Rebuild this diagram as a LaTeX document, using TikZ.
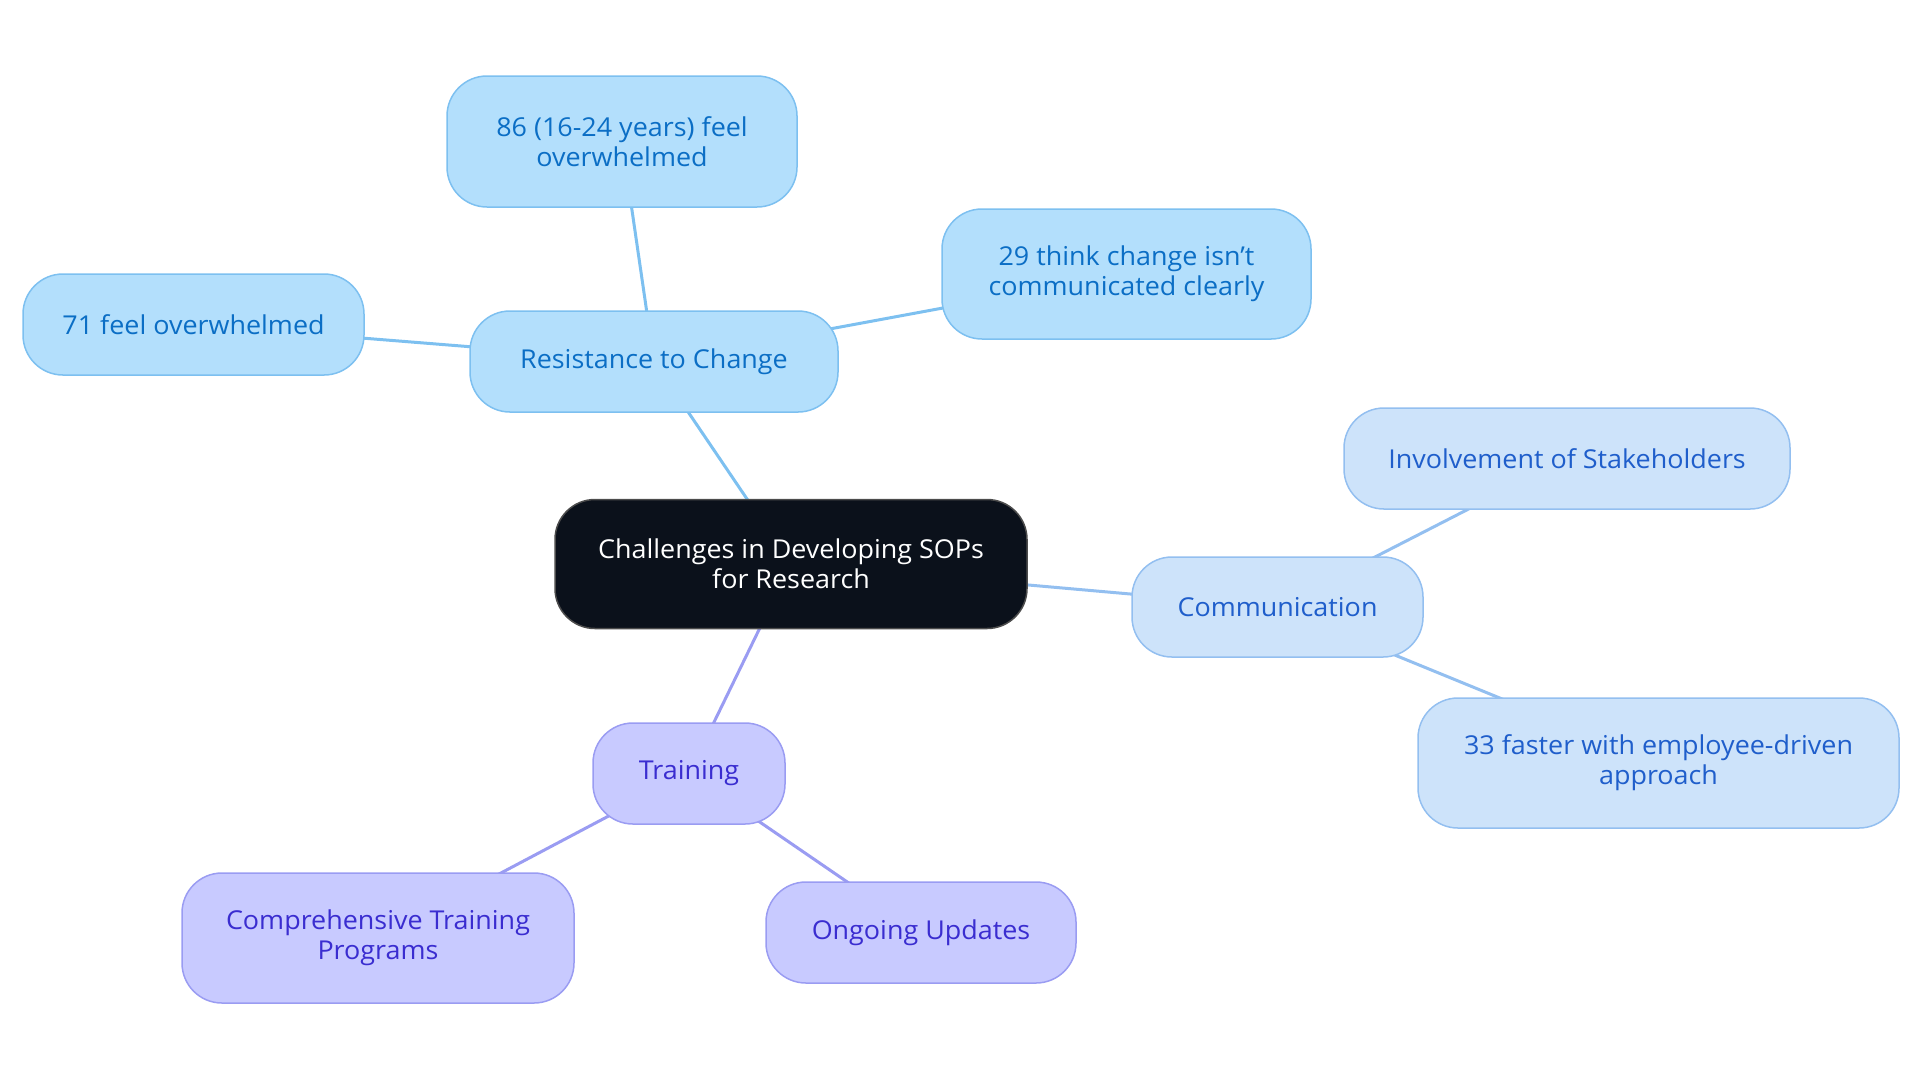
\documentclass[tikz,border=0pt]{standalone}
\usepackage{fontspec}
\setmainfont[FakeStretch=1.035]{Open Sans}
\usetikzlibrary{backgrounds}
\definecolor{rfill}{HTML}{B3DFFC}
\definecolor{rdraw}{HTML}{7DC0F0}
\definecolor{rtext}{HTML}{0B6EC5}
\definecolor{cfill}{HTML}{CDE3FA}
\definecolor{cdraw}{HTML}{93BFF0}
\definecolor{ctext}{HTML}{1F5ECB}
\definecolor{tfill}{HTML}{C8CAFF}
\definecolor{tdraw}{HTML}{9A9CF2}
\definecolor{ttext}{HTML}{3A2DD0}
\definecolor{mainfill}{HTML}{0B111B}
\tikzset{
  box/.style={rounded corners=20pt, line width=0.75pt, align=center, inner sep=0pt,
    font=\fontsize{13}{15}\selectfont},
  rbox/.style={box, fill=rfill, draw=rdraw, text=rtext},
  cbox/.style={box, fill=cfill, draw=cdraw, text=ctext},
  tbox/.style={box, fill=tfill, draw=tdraw, text=ttext},
  mbox/.style={box, fill=mainfill, draw=black!70, text=white},
  redge/.style={draw=rdraw, line width=1.5pt},
  cedge/.style={draw=cdraw, line width=1.5pt},
  tedge/.style={draw=tdraw, line width=1.5pt},
}
\begin{document}
\begin{tikzpicture}[x=0.5pt,y=-0.5pt]
\useasboundingbox (0,0) rectangle (1920,1083);
\node[mbox, minimum width=236pt, minimum height=64.5pt] (main) at (791,564)
  {Challenges in Developing SOPs\\for Research};
\node[rbox, minimum width=184pt, minimum height=50.5pt] (res) at (654,361.5) {Resistance to Change};
\node[rbox, minimum width=175pt, minimum height=65.5pt] (r86) at (622,141.5) {86 (16-24 years) feel\\overwhelmed};
\node[rbox, minimum width=170.5pt, minimum height=50.5pt] (r71) at (193.5,324.5) {71 feel overwhelmed};
\node[rbox, minimum width=184.5pt, minimum height=65pt] (r29) at (1126.5,274) {29 think change isn't\\communicated clearly};
\node[cbox, minimum width=145.5pt, minimum height=50pt] (com) at (1277.5,607) {Communication};
\node[cbox, minimum width=223pt, minimum height=50.5pt] (inv) at (1567,458.5) {Involvement of Stakeholders};
\node[cbox, minimum width=240.5pt, minimum height=65pt] (c33) at (1658.5,763) {33 faster with employee-driven\\approach};
\node[tbox, minimum width=96pt, minimum height=50.5pt] (tra) at (689,773.5) {Training};
\node[tbox, minimum width=196pt, minimum height=65pt] (ctp) at (378,938) {Comprehensive Training\\Programs};
\node[tbox, minimum width=155pt, minimum height=50.5pt] (ong) at (921,932.5) {Ongoing Updates};
\begin{scope}[on background layer]
\draw[redge] (main.center) -- (res.center);
\draw[redge] (res.center) -- (r86.center);
\draw[redge] (res.center) -- (r71.center);
\draw[redge] (res.center) -- (r29.center);
\draw[cedge] (main.center) -- (com.center);
\draw[cedge] (com.center) -- (inv.center);
\draw[cedge] (com.center) -- (c33.center);
\draw[tedge] (main.center) -- (tra.center);
\draw[tedge] (tra.center) -- (ctp.center);
\draw[tedge] (tra.center) -- (ong.center);
\end{scope}
\end{tikzpicture}
\end{document}
